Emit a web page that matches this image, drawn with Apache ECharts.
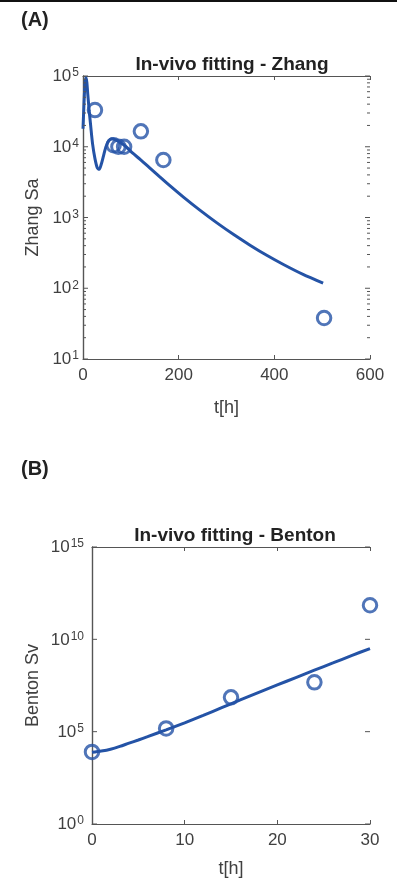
<!DOCTYPE html>
<html>
<head>
<meta charset="utf-8">
<script src="https://cdn.jsdelivr.net/npm/echarts@6/dist/echarts.min.js"></script>
<style>
  html, body { margin: 0; padding: 0; background: #fff; }
  #chart { width: 397px; height: 879px; }
</style>
</head>
<body>
<div id="chart"></div>
<script>
// ---- Panel A: Zhang, S. aureus counts (log scale) ----
const zhangObsT   = [25, 64, 74, 86, 121, 168, 504];
const zhangObsVal = [33000, 10500, 10000, 10000, 16500, 6500, 38];

const zhangFitT   = [0, 2, 4, 6, 8, 10, 13, 16, 20, 25, 30, 34, 38, 43, 48, 54, 60, 68, 78, 90, 104, 120, 140, 160, 176, 210, 245, 280, 315, 350, 385, 420, 460, 502];
const zhangFitVal = [18000, 40000, 75000, 95000, 82000, 55000, 32000, 20000, 11000, 6800, 5000, 4800, 5600, 7500, 10000, 12200, 13000, 12500, 11500, 10000, 8100, 6600, 5000, 3780, 3040, 1945, 1262, 840, 574, 403, 290, 215, 157, 118];

// ---- Panel B: Benton, S. viridans counts (log scale) ----
const bentonObsT   = [0, 8, 15, 24, 30];
const bentonObsVal = [8.0e3, 1.5e5, 7.2e6, 4.7e7, 7.0e11];

const bentonFitT   = [0, 1, 2, 3, 4, 5, 6, 8, 10, 12, 14, 16, 18, 20, 22, 24, 26, 28, 30];
const bentonFitLog = [3.88, 3.95, 4.05, 4.2, 4.38, 4.55, 4.73, 5.1, 5.48, 5.88, 6.3, 6.72, 7.13, 7.53, 7.93, 8.33, 8.72, 9.12, 9.5];

// Axis ranges and tick positions
const zhangX = { min: 0, max: 600, interval: 200 };
const zhangY = { min: 1e1, max: 1e5 };
const zhangYMajor = [1e1, 1e2, 1e3, 1e4, 1e5];
const bentonX = { min: 0, max: 30, interval: 10 };
const bentonY = { min: 1e0, max: 1e15 };
const bentonYMajor = [1e0, 1e5, 1e10, 1e15];

const BLUE = '#2453a6';
const AXIS = '#555555';
const LABEL = '#404040';
const FONT = '"Liberation Sans", Arial, Helvetica, sans-serif';

const pair = (xs, ys) => xs.map((x, i) => [x, ys[i]]);

const powLabel = {
  formatter: v => '{b|10}{s|' + Math.round(Math.log10(v)) + '}',
  rich: {
    b: { fontSize: 17, lineHeight: 18, padding: [12, 0, 0, 0], color: LABEL, fontFamily: FONT, verticalAlign: 'bottom' },
    s: { fontSize: 12, lineHeight: 12, padding: [0, 0, 0, 1], color: LABEL, fontFamily: FONT, verticalAlign: 'top' }
  }
};

function xAxes(gridIndex, r, name, nameGap) {
  return [
    {
      type: 'value', gridIndex, position: 'bottom', min: r.min, max: r.max, interval: r.interval,
      name, nameLocation: 'middle', nameGap, nameMoveOverlap: false,
      nameTextStyle: { fontSize: 18, color: LABEL, fontFamily: FONT },
      axisLine: { lineStyle: { color: AXIS, width: 1.2 } },
      axisTick: { inside: true, length: 4, lineStyle: { color: AXIS } },
      axisLabel: { fontSize: 17, color: LABEL, fontFamily: FONT, margin: 8 },
      splitLine: { show: false }
    },
    {
      type: 'value', gridIndex, position: 'top', min: r.min, max: r.max, interval: r.interval,
      axisLine: { lineStyle: { color: AXIS, width: 1.2 } },
      axisTick: { inside: true, length: 4, lineStyle: { color: AXIS } },
      axisLabel: { show: false },
      splitLine: { show: false }
    }
  ];
}

function yAxes(gridIndex, r, interval, name, labelMargin, nameGap) {
  return [
    {
      type: 'log', logBase: 10, gridIndex, position: 'left', min: r.min, max: r.max, interval,
      name, nameLocation: 'middle', nameGap, nameMoveOverlap: false,
      nameTextStyle: { fontSize: 18, color: LABEL, fontFamily: FONT },
      axisLine: { lineStyle: { color: AXIS, width: 1.2 } },
      axisTick: { show: false },
      axisLabel: Object.assign({ margin: labelMargin }, powLabel),
      splitLine: { show: false }, minorTick: { show: false }
    },
    {
      type: 'log', logBase: 10, gridIndex, position: 'right', min: r.min, max: r.max, interval,
      axisLine: { lineStyle: { color: AXIS, width: 1.2 } },
      axisTick: { show: false },
      axisLabel: { show: false },
      splitLine: { show: false }, minorTick: { show: false }
    }
  ];
}

// Inward tick marks on both vertical sides, drawn through the axis scales
function yTickSeries(xAxisIndex, yAxisIndex, xr, vals, len) {
  return {
    type: 'custom', xAxisIndex, yAxisIndex, silent: true, z: 5, clip: false,
    data: vals.map(v => [v]),
    renderItem: (params, api) => {
      const v = api.value(0);
      const pl = api.coord([xr.min, v]);
      const pr = api.coord([xr.max, v]);
      const st = { stroke: AXIS, lineWidth: 1 };
      return {
        type: 'group',
        children: [
          { type: 'line', shape: { x1: pl[0], y1: pl[1], x2: pl[0] + len, y2: pl[1] }, style: st },
          { type: 'line', shape: { x1: pr[0], y1: pr[1], x2: pr[0] - len, y2: pr[1] }, style: st }
        ]
      };
    }
  };
}

const zhangYMinor = [];
for (let k = 1; k < 5; k++) for (let m = 2; m <= 9; m++) zhangYMinor.push(m * Math.pow(10, k));

const chart = echarts.init(document.getElementById('chart'), null, { renderer: 'canvas' });

chart.setOption({
  animation: false,
  backgroundColor: '#fff',
  textStyle: { fontFamily: FONT },
  title: [
    { text: '(A)', left: 16, top: 5, textStyle: { fontSize: 20, fontWeight: 'bold', color: '#222', fontFamily: FONT } },
    { text: 'In-vivo fitting - Zhang', left: 227, top: 50, textAlign: 'center',
      textStyle: { fontSize: 19, fontWeight: 'bold', color: '#222', fontFamily: FONT } },
    { text: '(B)', left: 16, top: 454, textStyle: { fontSize: 20, fontWeight: 'bold', color: '#222', fontFamily: FONT } },
    { text: 'In-vivo fitting - Benton', left: 230, top: 521, textAlign: 'center',
      textStyle: { fontSize: 19, fontWeight: 'bold', color: '#222', fontFamily: FONT } }
  ],
  graphic: [
    { type: 'rect', left: 0, top: 0, shape: { width: 397, height: 2 }, style: { fill: '#111' } }
  ],
  grid: [
    { left: 83, top: 76, width: 287, height: 283, outerBoundsMode: 'none', containLabel: false },
    { left: 92, top: 547, width: 278, height: 277, outerBoundsMode: 'none', containLabel: false }
  ],
  xAxis: [].concat(xAxes(0, zhangX, 't[h]', 40), xAxes(1, bentonX, 't[h]', 36)),
  yAxis: [].concat(yAxes(0, zhangY, 1, 'Zhang Sa', 4, 41), yAxes(1, bentonY, 5, 'Benton Sv', 8, 50)),
  series: [
    yTickSeries(0, 0, zhangX, zhangYMajor, 5),
    yTickSeries(0, 0, zhangX, zhangYMinor, 3),
    yTickSeries(2, 2, bentonX, bentonYMajor, 5),
    {
      type: 'line', xAxisIndex: 0, yAxisIndex: 0, data: pair(zhangFitT, zhangFitVal),
      showSymbol: false, smooth: 0.25, lineStyle: { color: BLUE, width: 3 }, z: 3
    },
    {
      type: 'scatter', xAxisIndex: 0, yAxisIndex: 0, data: pair(zhangObsT, zhangObsVal),
      symbol: 'circle', symbolSize: 13.5, clip: false,
      itemStyle: { color: 'rgba(0,0,0,0)', borderColor: BLUE, borderWidth: 3 }, z: 4
    },
    {
      type: 'line', xAxisIndex: 2, yAxisIndex: 2,
      data: bentonFitT.map((t, i) => [t, Math.pow(10, bentonFitLog[i])]),
      showSymbol: false, smooth: 0.3, lineStyle: { color: BLUE, width: 3 }, z: 3
    },
    {
      type: 'scatter', xAxisIndex: 2, yAxisIndex: 2, data: pair(bentonObsT, bentonObsVal),
      symbol: 'circle', symbolSize: 13.5, clip: false,
      itemStyle: { color: 'rgba(0,0,0,0)', borderColor: BLUE, borderWidth: 3 }, z: 4
    }
  ]
});
</script>
</body>
</html>
